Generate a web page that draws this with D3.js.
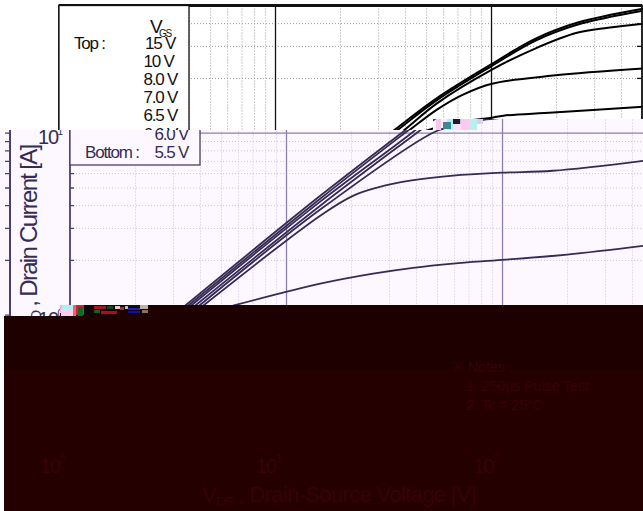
<!DOCTYPE html>
<html><head><meta charset="utf-8">
<script src="https://cdn.jsdelivr.net/npm/d3@7/dist/d3.min.js"></script>
<style>
html,body{margin:0;padding:0;background:#fff}
svg{display:block}
text{font-family:"Liberation Sans",Arial,sans-serif}
</style></head><body><svg id="c" width="643" height="511"></svg>
<script>
// ---- data (V_DS in volts, I_D in amps)
const vds15=[3.41,14.4,34.4,56.2,101,160,250,505];
const id15 =[1.12,4.5,10,15.5,23.9,32.8,40.2,48];
const vds10=[3.52,14.4,35.6,56.2,101,160,250,505];
const id10 =[1.12,4.34,10,15.1,23.3,32,39.2,46.8];
const vds8 =[3.63,14.4,38.3,56.2,101,160,250,348,505];
const id8  =[1.12,4.18,10,14.5,22.2,29,35.4,37.7,39.7];
const vds7 =[3.79,14.4,40.4,56.2,74.2,101,194,505];
const id7  =[1.12,3.97,10,13.4,16.2,18.6,20.6,22.5];
const vds65=[3.96,14.4,47.9,58.1,80,101,114,194,505];
const id65 =[1.12,3.78,10,10.8,11.7,12.1,12.4,12.9,13.9];
const vds6 =[4.13,14.4,20.4,26.4,37.5,59.3,100,172,450];
const id6  =[1.12,3.5,4.5,4.99,5.45,5.81,6.03,6.18,7.01];
const vds55=[5.68,14.4,25.3,38.7,59.3,100,200,450];
const id55 =[1.12,1.48,1.68,1.81,1.91,2.0,2.14,2.39];
const vdsAll=[vds15,vds10,vds8,vds7,vds65,vds6,vds55];
const idAll=[id15,id10,id8,id7,id65,id6,id55];
const xGrid=[2,3,4,5,6,7,8,9,20,30,40,50,60,70,80,90,200,300,400];
const xMajor=[10,100];
const yGrid=[1,2,3,4,5,6,7,8,9,20,30,40];
const yMajor=[10];
const xDecades=[1,10,100];
const legendLabels=["15 V","10 V","8.0 V","7.0 V","6.5 V","6.0 V","5.5 V"];
const noteLines=["※ Notes :","1. 250μs Pulse Test","2. Tc = 25°C"];

const svg=d3.select("#c");
const x=d3.scaleLog().domain([1,500]).range([59,642]);
const y=d3.scaleLog().domain([0.2,50]).range([441.9,5.5]);
const line=d3.line().x(d=>x(d[0])).y(d=>y(d[1])).curve(d3.curveCatmullRom.alpha(0.5));

const defs=svg.append("defs");
function clip(id,pts){defs.append("clipPath").attr("id",id).append("polygon").attr("points",pts.map(p=>p.join(",")).join(" "));}
clip("b1",[[0,0],[643,0],[643,119],[433,119],[433,130],[0,130]]);
clip("b2",[[0,130],[433,130],[433,119],[643,119],[643,305],[60,305],[60,316],[0,316]]);

function plot(parent,dx,st,full,band){
  const g=parent.append("g").attr("transform",`translate(${dx},0)`);
  if(full){
    g.append("g").attr("transform","translate(0,5.5)")
     .call(d3.axisBottom(x).tickValues(xGrid).tickSize(436).tickFormat(""))
     .call(a=>{a.select(".domain").remove();a.selectAll("line").attr("stroke",st.grid).attr("stroke-dasharray","1 2");});
    g.append("g").attr("transform","translate(59,0)")
     .call(d3.axisRight(y).tickValues(yGrid).tickSize(583).tickFormat(""))
     .call(a=>{a.select(".domain").remove();a.selectAll("line").attr("stroke",st.grid).attr("stroke-dasharray","1 2");});
    g.append("g").attr("transform","translate(0,5.5)")
     .call(d3.axisBottom(x).tickValues(xMajor).tickSize(436).tickFormat(""))
     .call(a=>{a.select(".domain").remove();a.selectAll("line").attr("stroke",st.major).attr("stroke-width",1.3);});
    g.append("g").attr("transform","translate(59,0)")
     .call(d3.axisRight(y).tickValues(yMajor).tickSize(583).tickFormat(""))
     .call(a=>{a.select(".domain").remove();a.selectAll("line").attr("stroke",st.major).attr("stroke-width",1.3);});
    g.selectAll("path.curve").data(vdsAll.map((v,i)=>v.map((d,j)=>[d,idAll[i][j]]))).join("path")
     .attr("class","curve").attr("d",line).attr("fill","none").attr("stroke",st.curve).attr("stroke-width",st.cw);
    g.append("g").attr("transform","translate(59,0)")
     .call(d3.axisRight(y).tickValues(yGrid.concat(yMajor)).tickSize(4).tickFormat(""))
     .call(a=>{a.select(".domain").remove();a.selectAll("line").attr("stroke",st.frame).attr("stroke-width",1.3);});
  }
  g.append("g").attr("transform","translate(642,0)")
   .call(d3.axisLeft(y).tickValues(yGrid.concat(yMajor)).tickSize(5).tickFormat(""))
   .call(a=>{a.select(".domain").remove();a.selectAll("line").attr("stroke",st.frame).attr("stroke-width",1.3);});
  g.append("rect").attr("x",x(1)).attr("y",y(50)).attr("width",x(500)-x(1)).attr("height",y(0.2)-y(50))
   .attr("fill","none").attr("stroke",st.frame).attr("stroke-width",full?1.8:2);
  if(full){
    g.append("line").attr("x1",x(1)).attr("x2",x(500)).attr("y1",y(50)).attr("y2",y(50)).attr("stroke",st.frame).attr("stroke-width",st.top);
    // legend
    const lg=g.append("g");
    lg.append("rect").attr("x",x(1)).attr("y",y(50)).attr("width",130).attr("height",159.5).attr("fill",st.bg).attr("stroke",st.frame).attr("stroke-width",1.3);
    const ts=(s,x0,yy,size)=>lg.append("text").attr("x",x0).attr("y",yy).attr("font-size",size).attr("letter-spacing",-1.2).attr("fill",st.text).text(s);
    if(band===1){
      ts("Top :",74,49,17);
      ts("V",150,33,19);
      ts("GS",159,37,10);
    } else {
      ts("Bottom :",74,158,17);
    }
    legendLabels.forEach((s,i)=>{
      if((band===1&&i>5)||(band===2&&i<5)) return;
      ts(s,i===0?145:143.5,49+i*18.1,17);
    });
    if(band===2){
      // y labels
      const l=g.append("text").attr("transform",`translate(${x(1)-33},325) rotate(-90)`).attr("font-size",24).attr("letter-spacing",-1.7).attr("fill",st.text);
      l.append("tspan").text("I");
      l.append("tspan").attr("font-size",14).attr("dy",4).text("D");
      l.append("tspan").attr("dy",-4).text(" , Drain Current  [A]");
      const t=(e,v)=>{const yy=y(v)+11.5;
        g.append("text").attr("x",x(1)-32).attr("y",yy).attr("font-size",20).attr("letter-spacing",-1).attr("fill",st.text).text("10");
        g.append("text").attr("x",x(1)-12.5).attr("y",yy-9).attr("font-size",10).attr("fill",st.text).text(e);};
      t("1",10);t("0",1);
    }
  }
  return g;
}

const s1={grid:"#9a9a9a",major:"#111",curve:"#000",cw:2,frame:"#111",top:3,bg:"#fff",text:"#111"};
const s2={grid:"#cbc3da",major:"#8a80ad",curve:"#352b57",cw:1.8,frame:"#4a3f70",top:1.5,bg:"#fdf8ff",text:"#352b57"};

// backgrounds
svg.append("rect").attr("width",643).attr("height",511).attr("fill","#fff");
const gb2=svg.append("g").attr("clip-path","url(#b2)");
gb2.append("rect").attr("width",643).attr("height",511).attr("fill","#fdf8ff");
plot(gb2,11,s2,true,2);
plot(gb2,-632,s2,false,2);
const gb1=svg.append("g").attr("clip-path","url(#b1)");
plot(gb1,0,s1,true,1);

// dark lower band
const dark=svg.append("g");
dark.append("rect").attr("x",60).attr("y",305).attr("width",583).attr("height",206).attr("fill","#1f0000");
dark.append("rect").attr("x",4).attr("y",316).attr("width",639).attr("height",195).attr("fill","#250001");
dark.append("rect").attr("x",150).attr("y",305).attr("width",493).attr("height",65).attr("fill","#1e0000");
dark.append("rect").attr("x",4).attr("y",316).attr("width",146).attr("height",54).attr("fill","#1e0000");

// decoding noise strips
const noiseA=[[60,305,9,8,"#f3b0e0"],[69,305,5,5,"#fff"],[61,309,12,7,"#ffd0f0"],[62,305,12,5,"#aaf4f0"],[73,305,3,11,"#f06070"],[76,305,8,10,"#d02040"],[78,307,5,9,"#106a20"],[84,305,8,11,"#100808"],
 [94,306,6,3,"#b01020"],[94,310,6,3,"#106020"],[100,306,6,3,"#902020"],[101,311,6,3,"#a01030"],[107,306,6,3,"#104a20"],[107,311,10,3,"#a01020"],[115,306,5,3,"#e0d0d0"],[120,307,4,3,"#a03030"],[125,306,3,3,"#c0c0b0"],[128,305,12,2,"#101010"],[128,308,12,2,"#2020c0"],[128,311,12,2,"#1010a0"],[140,305,8,4,"#c0b0a0"],[142,310,6,3,"#8a7060"]];
const noiseB=[[436,119,5,11,"#f7c8ee"],[441,119,7,6,"#ffe6fa"],[447,119,6,11,"#aeeff0"],[443,122,8,7,"#3a8a96"],[453,119,7,5,"#241828"],[460,119,6,5,"#c8b8e0"],[453,124,8,6,"#f8e0f8"],[461,119,8,11,"#ffc8f0"],[469,119,8,11,"#b8f0f0"],[477,119,6,5,"#d8d0ee"]];
svg.append("g").selectAll("rect").data(noiseA.concat(noiseB)).join("rect")
 .attr("x",d=>d[0]).attr("y",d=>d[1]).attr("width",d=>d[2]).attr("height",d=>d[3]).attr("fill",d=>d[4]);

// faint text in the dark band
const tc="#380205";
xDecades.forEach((d,i)=>{
  const px=x(d)-19+(i==2?1:0);
  dark.append("text").attr("x",px).attr("y",473).attr("font-size",20).attr("letter-spacing",-1).attr("fill",tc).text("10");
  dark.append("text").attr("x",px+20).attr("y",462).attr("font-size",11).attr("fill",tc).text(i);
});
const xl=dark.append("text").attr("x",202).attr("y",502).attr("font-size",22).attr("letter-spacing",-0.65).attr("fill",tc);
xl.append("tspan").text("V");
xl.append("tspan").attr("font-size",13).attr("dy",4).text("DS");
xl.append("tspan").attr("dy",-4).text(" , Drain-Source Voltage [V]");
dark.selectAll("text.note").data(noteLines).join("text").attr("class","note")
 .attr("x",(d,i)=>i==0?452:466).attr("y",(d,i)=>372+i*19).attr("font-size",14.5).attr("letter-spacing",-0.2).attr("fill",tc).text(d=>d);
</script></body></html>
